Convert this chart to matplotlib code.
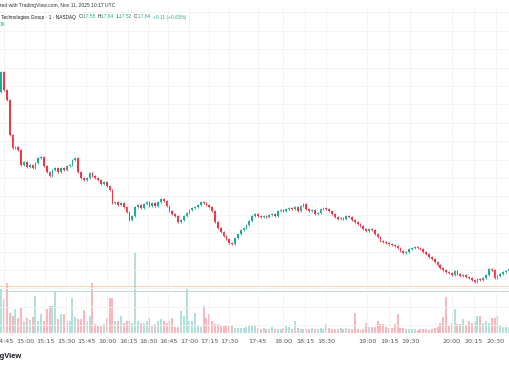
import numpy as np
import matplotlib
matplotlib.use("Agg")
import matplotlib.pyplot as plt

# 2-minute candles, closes (open = previous close)
open0 = 18.467
closes = [
    18.576, 18.478, 18.424, 18.234, 18.163, 18.168, 18.152, 18.071, 18.087, 18.060,
    18.071, 18.054, 18.082, 18.109, 18.114, 18.065, 18.033, 18.011, 18.044, 18.054,
    18.033, 18.054, 18.044, 18.065, 18.071, 18.098, 18.109, 18.033, 18.000, 17.989,
    18.000, 18.027, 18.011, 18.000, 17.989, 17.967, 17.978, 17.957, 17.935, 17.864,
    17.870, 17.853, 17.864, 17.842, 17.815, 17.772, 17.793, 17.842, 17.853, 17.837,
    17.859, 17.870, 17.848, 17.864, 17.848, 17.870, 17.886, 17.875, 17.848, 17.821,
    17.804, 17.793, 17.761, 17.772, 17.793, 17.810, 17.826, 17.837, 17.842, 17.853,
    17.870, 17.864, 17.853, 17.842, 17.821, 17.761, 17.728, 17.707, 17.685, 17.668,
    17.647, 17.641, 17.674, 17.696, 17.717, 17.728, 17.745, 17.766, 17.793, 17.804,
    17.793, 17.788, 17.793, 17.788, 17.799, 17.804, 17.793, 17.821, 17.826, 17.821,
    17.832, 17.837, 17.832, 17.842, 17.821, 17.848, 17.859, 17.832, 17.821, 17.826,
    17.804, 17.810, 17.832, 17.837, 17.832, 17.821, 17.804, 17.788, 17.777, 17.783,
    17.777, 17.793, 17.788, 17.772, 17.761, 17.750, 17.739, 17.723, 17.712, 17.723,
    17.717, 17.696, 17.679, 17.658, 17.652, 17.647, 17.641, 17.636, 17.630, 17.620,
    17.603, 17.592, 17.598, 17.614, 17.620, 17.625, 17.620, 17.614, 17.598, 17.587,
    17.571, 17.560, 17.543, 17.527, 17.511, 17.500, 17.489, 17.484, 17.473, 17.495,
    17.478, 17.467, 17.473, 17.462, 17.457, 17.446, 17.435, 17.451, 17.446, 17.457,
    17.473, 17.505, 17.500, 17.457, 17.467, 17.478, 17.489, 17.495, 17.505,
]
# volume in thousands
volumes = [
    44, 34, 50, 20, 17, 24, 15, 25, 12, 15, 13, 16, 37, 12, 19, 12, 24, 27, 27, 42,
    14, 19, 19, 12, 12, 35, 16, 14, 14, 23, 12, 17, 50, 9, 7, 7, 9, 15, 35, 35,
    12, 12, 17, 10, 12, 12, 10, 80, 12, 10, 10, 12, 15, 8, 9, 12, 14, 12, 10, 12,
    15, 6, 6, 22, 17, 44, 12, 12, 20, 8, 6, 27, 15, 19, 12, 9, 9, 8, 7, 7,
    7, 7, 5, 5, 5, 5, 6, 7, 7, 7, 5, 4, 5, 4, 4, 6, 4, 4, 4, 5,
    7, 6, 4, 12, 5, 4, 4, 4, 4, 5, 4, 4, 5, 4, 9, 5, 4, 4, 4, 5,
    4, 5, 4, 4, 20, 4, 3, 4, 10, 6, 6, 6, 12, 9, 9, 6, 5, 5, 9, 19,
    5, 5, 4, 4, 4, 4, 3, 4, 4, 4, 3, 4, 5, 6, 10, 16, 36, 8, 10, 24,
    9, 9, 14, 8, 12, 10, 12, 17, 17, 10, 12, 10, 15, 15, 17, 8, 6, 6, 6,
]
tick_labels = ["14:45", "15:00", "15:15", "15:30", "15:45", "16:00", "16:15", "16:30",
               "16:45", "17:00", "17:15", "17:30", "17:45", "18:00", "18:15", "18:30",
               "19:00", "19:15", "19:30", "20:00", "20:15", "20:30"]
tick_pos = [1.0, 8.4, 15.4, 22.7, 29.8, 37.1, 44.5, 51.5, 58.5, 65.9, 72.9, 79.9,
            90.0, 98.8, 106.5, 113.9, 128.3, 136.0, 143.4, 158.1, 165.8, 173.5]
orange_level = 17.415
blue_level = 17.386

up_col = "#22ab94"
down_col = "#f23645"
dark = "#131722"

opens = [open0] + closes[:-1]
x = np.arange(len(closes))
o = np.array(opens)
c = np.array(closes)
up = c >= o
highs = np.maximum(o, c) + 0.006
lows = np.minimum(o, c) - 0.006
cols = np.where(up, up_col, down_col)

W, H = 510, 369
fig = plt.figure(figsize=(W / 100, H / 100), dpi=100)
fig.patch.set_facecolor("white")

ax = fig.add_axes([0, (H - 333) / H, 1, (333 - 8) / H])
axv = ax.twinx()
ax.set_zorder(axv.get_zorder() + 1)
ax.patch.set_visible(False)

# volume
axv.bar(x, volumes, width=0.7, color=cols, alpha=0.35)
axv.set_ylim(0, 325)

# candles
ax.vlines(x, lows, highs, colors=cols, linewidth=0.6)
ax.bar(x, np.maximum(np.abs(c - o), 0.002), bottom=np.minimum(o, c), width=0.6, color=cols)

ax.axhline(orange_level, color="#f6c89c", linewidth=0.6, zorder=0)
ax.axhline(blue_level, color="#a6d8e3", linewidth=0.6, zorder=0)

ax.set_xlim(-0.403, 178.42)
ax.set_ylim(17.1576, 18.9239)
ax.set_yticks(np.arange(17.2, 18.95, 0.1))
ax.set_xticks(tick_pos)
ax.set_xticklabels(tick_labels)
ax.grid(True, color="#f2f2f2", linewidth=0.6)
ax.set_axisbelow(True)
ax.tick_params(axis="x", length=0, pad=4, labelsize=4.6, labelcolor="#555555")
ax.tick_params(axis="y", length=0, labelleft=False)
axv.tick_params(length=0, labelright=False)
for a in (ax, axv):
    for s in a.spines.values():
        s.set_visible(False)

# header texts, sized to the widths seen in the screenshot
fnt = "Liberation Sans"
fig.canvas.draw()
r = fig.canvas.get_renderer()


def width_of(s, size, **kw):
    t = fig.text(0, 0, s, fontsize=size, family=fnt, **kw)
    w = t.get_window_extent(r).width
    t.remove()
    return w


fs1 = 5.0 * 115 / width_of("ed with TradingView.com, Nov 11, 2025 10:17 UTC", 5.0)
fig.text(115 / W, 1 - 6 / H, "Created with TradingView.com, Nov 11, 2025 10:17 UTC",
         ha="right", va="center", fontsize=fs1, color="#333333", family=fnt)

fs2 = 5.0 * 75 / width_of("Technologies Group \u00b7 1 \u00b7 NASDAQ", 5.0)
fig.text(1 / W, 1 - 17 / H, "Technologies Group \u00b7 1 \u00b7 NASDAQ",
         ha="left", va="center", fontsize=fs2, color=dark, family=fnt)

pieces = [("O", dark), ("17.55  ", up_col), ("H", dark), ("17.64  ", up_col),
          ("L", dark), ("17.52  ", up_col), ("C", dark), ("17.64  ", up_col),
          ("+0.11 (+0.63%)", up_col)]
full = "".join(p[0] for p in pieces)
fs3 = 5.0 * (188 - 79) / width_of(full, 5.0)
px = 79.0
for s, colr in pieces:
    fig.text(px / W, 1 - 17 / H, s, ha="left", va="center", fontsize=fs3, color=colr, family=fnt)
    px += width_of(s, fs3)

fig.text(0, 1 - 25 / H, "1K", ha="left", va="center", fontsize=fs2, color=up_col, family=fnt)

fs4 = 6.0 * 22 / width_of("gView", 6.0, fontweight="bold")
fig.text(22 / W, 1 - 356 / H, "TradingView", ha="right", va="center", fontsize=fs4,
         fontweight="bold", color=dark, family=fnt)

fig.savefig("out.png", dpi=100)
